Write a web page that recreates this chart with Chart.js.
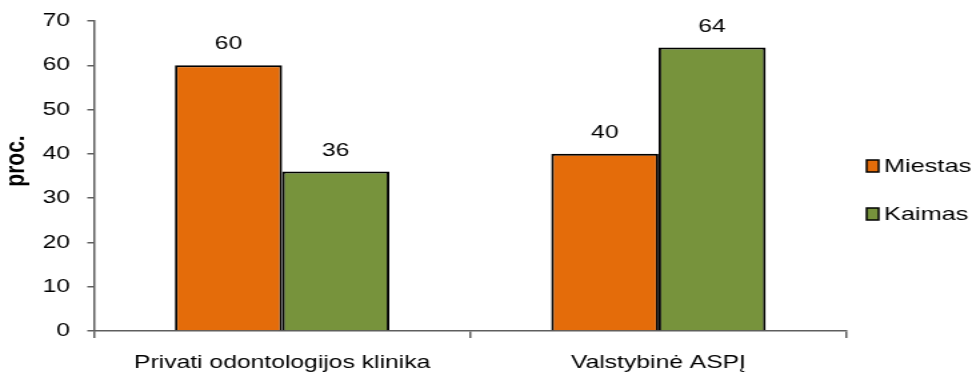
<!DOCTYPE html>
<html>
<head>
<meta charset="utf-8">
<script src="https://cdn.jsdelivr.net/npm/chart.js@4.4.0/dist/chart.umd.min.js"></script>
<style>
  html, body { margin: 0; padding: 0; background: #fff; }
</style>
</head>
<body>
<!-- the reference is stretched sideways, so the canvas is drawn narrow and widened by its inline style -->
<canvas id="chart" width="729" height="374" style="display:block;width:972px;height:374px;"></canvas>
<script>
const categories = ['Privati odontologijos klinika', 'Valstybinė ASPĮ'];
const miestas = [60, 40];
const kaimas = [36, 64];
const seriesNames = ['Miestas', 'Kaimas'];
const seriesColors = ['#E46C0A', '#77933C'];
const yTicks = [0, 10, 20, 30, 40, 50, 60, 70];
const yTitle = 'proc.';

const FONT = "'Liberation Sans', Arial, sans-serif";
const axisColor = '#5e5e5e';

// value labels over bars, legend on the right and the rotated axis title
const extras = {
    id: 'extras',
    afterDatasetsDraw(chart) {
        const ctx = chart.ctx;
        ctx.save();
        ctx.font = '18.5px ' + FONT;
        ctx.fillStyle = '#000';
        ctx.textAlign = 'center';
        ctx.textBaseline = 'middle';
        chart.data.datasets.forEach((ds, i) => {
            chart.getDatasetMeta(i).data.forEach((bar, j) => {
                ctx.fillText(String(ds.data[j]), bar.x, bar.y - 21);
            });
        });
        ctx.restore();
    },
    afterDraw(chart) {
        const ctx = chart.ctx;
        const area = chart.chartArea;
        ctx.save();
        // legend
        const lx = area.right + 15;
        const rows = [166, 214];
        chart.data.datasets.forEach((ds, i) => {
            const y = rows[i];
            ctx.fillStyle = ds.backgroundColor;
            ctx.fillRect(lx, y - 6, 9, 12);
            ctx.lineWidth = 1.5;
            ctx.strokeStyle = '#000';
            ctx.strokeRect(lx, y - 6, 9, 12);
            ctx.fillStyle = '#000';
            ctx.font = '19px ' + FONT;
            ctx.textAlign = 'left';
            ctx.textBaseline = 'middle';
            ctx.fillText(ds.label, lx + 13, y + 1);
        });
        // y axis title
        ctx.translate(12, 161);
        ctx.rotate(-Math.PI / 2);
        ctx.font = 'bold 21px ' + FONT;
        ctx.textAlign = 'center';
        ctx.textBaseline = 'middle';
        ctx.fillText(yTitle, 0, 0);
        ctx.restore();
    }
};

const ctx = document.getElementById('chart').getContext('2d');

new Chart(ctx, {
    type: 'bar',
    data: {
        labels: categories,
        datasets: [
            {
                label: seriesNames[0],
                data: miestas,
                backgroundColor: seriesColors[0],
                borderColor: '#000',
                borderWidth: 2,
            },
            {
                label: seriesNames[1],
                data: kaimas,
                backgroundColor: seriesColors[1],
                borderColor: '#000',
                borderWidth: 2,
            },
        ],
    },
    options: {
        responsive: false,
        animation: false,
        devicePixelRatio: 1,
        categoryPercentage: 0.57,
        barPercentage: 1,
        layout: { padding: { left: 0, right: 94, top: 21, bottom: 0 } },
        plugins: {
            legend: { display: false },
            tooltip: { enabled: false },
        },
        scales: {
            x: {
                afterFit(scale) { scale.height = 43; },
                grid: {
                    offset: true,
                    drawOnChartArea: false,
                    drawTicks: true,
                    tickLength: 7,
                    color: axisColor,
                    lineWidth: 1.5,
                },
                border: { color: axisColor, width: 1.5 },
                ticks: {
                    color: '#000',
                    padding: 14,
                    font: { family: FONT, size: 18.5 },
                    maxRotation: 0,
                    autoSkip: false,
                },
            },
            y: {
                min: 0,
                max: 70,
                afterFit(scale) {
                    scale.width = 70.5;
                    scale.paddingTop = 0;
                    scale.paddingBottom = 0;
                },
                afterBuildTicks(scale) { scale.ticks = yTicks.map(v => ({ value: v })); },
                grid: {
                    drawOnChartArea: false,
                    drawTicks: true,
                    tickLength: 5,
                    color: axisColor,
                    lineWidth: 1.5,
                },
                border: { color: axisColor, width: 1.5 },
                ticks: {
                    color: '#000',
                    padding: 13,
                    font: { family: FONT, size: 18.5 },
                },
            },
        },
    },
    plugins: [extras],
});
</script>
</body>
</html>
